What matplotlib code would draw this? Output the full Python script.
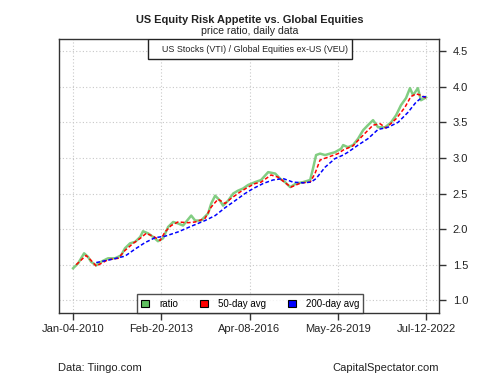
import pandas as pd
import matplotlib
matplotlib.use("Agg")
import matplotlib.pyplot as plt
from matplotlib.patches import Patch, Rectangle

plt.rcParams['font.family'] = ['Liberation Sans', 'DejaVu Sans']

# ratio VTI / VEU (decimal year, value)
ratio_t = [2010.01, 2010.19, 2010.40, 2010.54, 2010.65, 2010.83, 2011.00, 2011.25,
           2011.50, 2011.71, 2011.85, 2012.03, 2012.21, 2012.39, 2012.49, 2012.67,
           2012.85, 2013.02, 2013.20, 2013.38, 2013.56, 2013.73, 2013.91, 2014.20,
           2014.34, 2014.55, 2014.80, 2014.91, 2015.05, 2015.22, 2015.33, 2015.51,
           2015.69, 2015.86, 2016.04, 2016.22, 2016.47, 2016.68, 2016.93, 2017.18,
           2017.35, 2017.53, 2017.71, 2017.92, 2018.17, 2018.42, 2018.52, 2018.63,
           2018.77, 2018.95, 2019.12, 2019.30, 2019.52, 2019.59, 2019.76, 2019.94,
           2020.12, 2020.30, 2020.47, 2020.65, 2020.83, 2021.08, 2021.29, 2021.47,
           2021.64, 2021.82, 2021.96, 2022.07, 2022.24, 2022.35, 2022.49, 2022.53]
ratio_v = [1.45, 1.52, 1.66, 1.61, 1.54, 1.49, 1.54, 1.59,
           1.59, 1.63, 1.73, 1.80, 1.82, 1.89, 1.97, 1.94,
           1.89, 1.83, 1.87, 2.03, 2.10, 2.08, 2.05, 2.19,
           2.12, 2.12, 2.22, 2.36, 2.47, 2.40, 2.33, 2.40,
           2.50, 2.54, 2.57, 2.62, 2.66, 2.69, 2.80, 2.78,
           2.71, 2.66, 2.59, 2.64, 2.66, 2.69, 2.85, 3.04,
           3.06, 3.04, 3.06, 3.08, 3.13, 3.18, 3.15, 3.18,
           3.27, 3.39, 3.46, 3.53, 3.43, 3.43, 3.50, 3.60,
           3.74, 3.84, 3.98, 3.88, 3.98, 3.81, 3.84, 3.85]

# 50-day average
avg50_t = [2010.12, 2010.47, 2010.65, 2010.83, 2011.25, 2011.61, 2011.85, 2012.14,
           2012.39, 2012.60, 2012.85, 2013.10, 2013.27, 2013.49, 2013.73, 2014.09,
           2014.34, 2014.69, 2014.91, 2015.15, 2015.40, 2015.61, 2015.93, 2016.22,
           2016.47, 2016.68, 2017.03, 2017.28, 2017.57, 2017.74, 2018.10, 2018.42,
           2018.59, 2018.77, 2019.05, 2019.41, 2019.59, 2019.94, 2020.30, 2020.65,
           2020.90, 2021.11, 2021.47, 2021.78, 2021.99, 2022.17, 2022.35, 2022.53]
avg50_v = [1.50, 1.63, 1.56, 1.48, 1.57, 1.59, 1.70, 1.80,
           1.87, 1.94, 1.90, 1.84, 1.96, 2.05, 2.10, 2.09,
           2.10, 2.15, 2.31, 2.42, 2.36, 2.43, 2.52, 2.59,
           2.64, 2.66, 2.76, 2.73, 2.64, 2.59, 2.65, 2.66,
           2.78, 2.97, 3.01, 3.06, 3.11, 3.17, 3.32, 3.46,
           3.48, 3.42, 3.55, 3.71, 3.86, 3.90, 3.88, 3.84]

# 200-day average
avg200_t = [2010.83, 2011.32, 2011.85, 2012.21, 2012.56, 2012.92, 2013.27, 2013.73,
            2014.20, 2014.69, 2015.05, 2015.40, 2015.76, 2016.11, 2016.40, 2016.75,
            2017.10, 2017.46, 2017.81, 2018.17, 2018.45, 2018.63, 2018.95, 2019.30,
            2019.59, 2019.76, 2020.12, 2020.47, 2020.83, 2021.18, 2021.54, 2021.89,
            2022.17, 2022.42, 2022.53]
avg200_v = [1.53, 1.57, 1.62, 1.72, 1.81, 1.88, 1.90, 1.96,
            2.04, 2.12, 2.19, 2.30, 2.40, 2.50, 2.57, 2.64,
            2.69, 2.71, 2.66, 2.65, 2.66, 2.71, 2.87, 2.99,
            3.04, 3.08, 3.18, 3.27, 3.40, 3.43, 3.50, 3.64,
            3.78, 3.86, 3.86]

x_labels = ["Jan-04-2010", "Feb-20-2013", "Apr-08-2016", "May-26-2019", "Jul-12-2022"]
y_ticks = [1.0, 1.5, 2.0, 2.5, 3.0, 3.5, 4.0, 4.5]


def decimal_year(s):
    d = pd.to_datetime(s, format="%b-%d-%Y")
    return d.year + (d.dayofyear - 1) / 365.25


x_ticks = [decimal_year(s) for s in x_labels]

fig = plt.figure(figsize=(5, 3.75), dpi=100)
ax = fig.add_axes([0.118, 0.165, 0.76, 0.731])

ax.plot(ratio_t, ratio_v, color="#74c874", lw=1.8, alpha=0.9)
ax.plot(avg50_t, avg50_v, color="#ff0000", lw=1.1, ls=(0, (2.5, 1.5)))
ax.plot(avg200_t, avg200_v, color="#0000ff", lw=1.1, ls=(0, (2.5, 1.5)))

ax.set_xlim(2009.51, 2022.99)
ax.set_ylim(0.82, 4.67)

ax.set_xticks(x_ticks)
ax.set_xticklabels(x_labels)
ax.set_yticks(y_ticks)
ax.set_yticklabels([f"{v:.1f}" for v in y_ticks])
ax.yaxis.tick_right()
ax.tick_params(axis="both", labelsize=8, length=5, width=1, color="#333333", labelcolor="#222222")
ax.tick_params(axis="x", pad=3)
ax.tick_params(axis="y", pad=5)
ax.grid(True, color="#c8c8c8", ls=(0, (1, 2)), lw=0.8)
for s in ax.spines.values():
    s.set_color("#333333")
    s.set_linewidth(1)

# header box at top of panel
ax.add_patch(Rectangle((0.233, 0.927), 0.537, 0.073, transform=ax.transAxes,
                       facecolor="white", edgecolor="#222222", lw=1, zorder=5))
ax.text(0.272, 0.963, "US Stocks (VTI) / Global Equities ex-US (VEU)", transform=ax.transAxes,
        fontsize=6.4, va="center", ha="left", color="#222222", zorder=6)

handles = [Patch(facecolor="#5fbf5f", edgecolor="black", lw=0.8),
           Patch(facecolor="#ff0000", edgecolor="black", lw=0.8),
           Patch(facecolor="#0000ff", edgecolor="black", lw=0.8)]
leg = ax.legend(handles, ["ratio", "50-day avg", "200-day avg"], loc="lower center",
                bbox_to_anchor=(0.503, 0.0), ncol=3, fontsize=7, frameon=True,
                fancybox=False, borderaxespad=0, handlelength=0.8, handleheight=0.8,
                columnspacing=2.3, handletextpad=1.0, borderpad=0.45)
leg.get_frame().set_edgecolor("#222222")
leg.get_frame().set_linewidth(1)

fig.text(0.5, 0.947, "US Equity Risk Appetite vs. Global Equities", ha="center", va="center",
         fontsize=7.9, fontweight="bold", color="#222222")
fig.text(0.5, 0.918, "price ratio, daily data", ha="center", va="center", fontsize=7.6,
         color="#222222")
fig.text(0.116, 0.019, "Data: Tiingo.com", ha="left", va="center", fontsize=8, color="#222222")
fig.text(0.878, 0.019, "CapitalSpectator.com", ha="right", va="center", fontsize=8,
         color="#222222")

fig.savefig("out.png", dpi=100)
